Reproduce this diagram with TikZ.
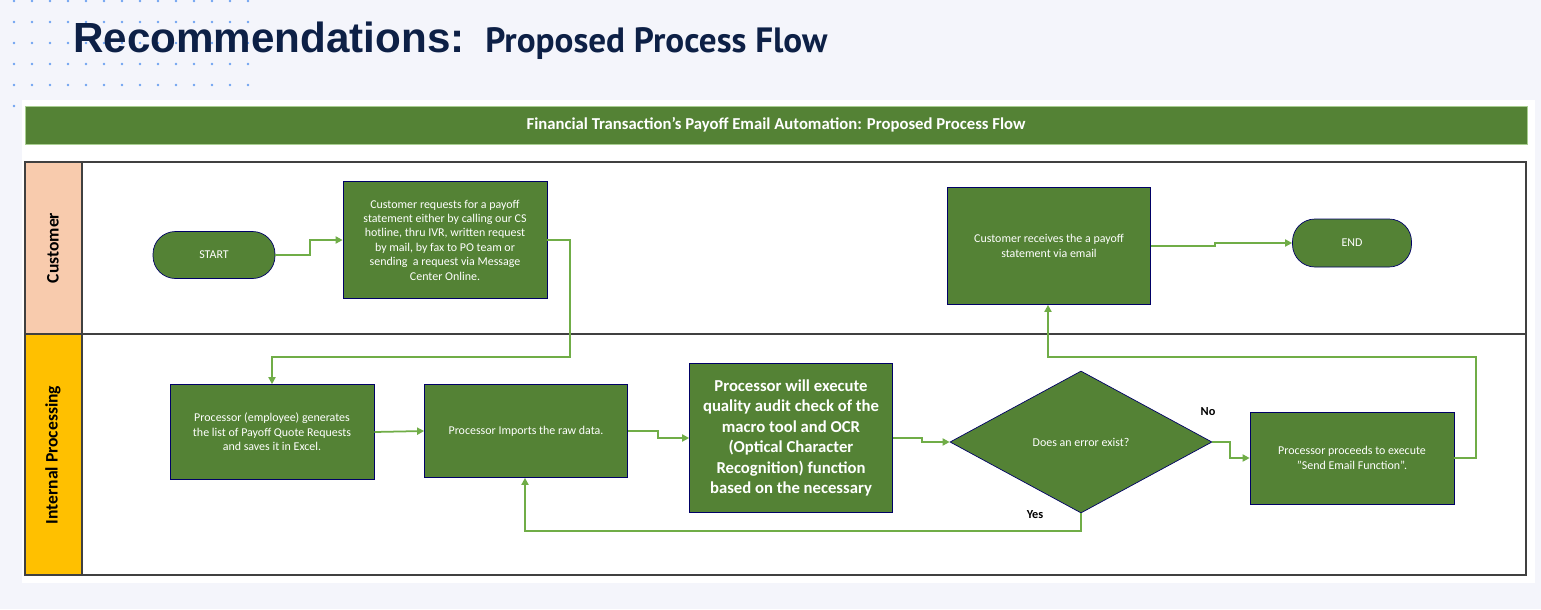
\documentclass[tikz,border=0pt]{standalone}
\usepackage{fontspec}
\setmainfont{Carlito}
\newfontfamily\ttlfont{Liberation Sans}
\newfontfamily\subfont{PT Sans}
\usetikzlibrary{shapes.geometric,arrows.meta}
\definecolor{bg}{HTML}{F4F5FB}
\definecolor{gbox}{HTML}{548235}
\definecolor{gline}{HTML}{70AD47}
\definecolor{peach}{HTML}{F8CBAD}
\definecolor{gold}{HTML}{FFC000}
\definecolor{navy}{HTML}{0D2046}
\definecolor{dotc}{HTML}{6FA3F0}
\begin{document}
\begin{tikzpicture}[x=0.02cm,y=-0.02cm,
  box/.style={draw=blue!40!black,line width=0.4pt,fill=gbox,text=white,align=center,font=\fontsize{6.8}{8.2}\selectfont,inner sep=2pt},
  term/.style={box,rounded corners=0.45cm},
  conn/.style={draw=gline,line width=1pt,-{Triangle[length=4pt,width=4pt]}},
  lbl/.style={font=\bfseries\fontsize{7}{8}\selectfont}]
\useasboundingbox (0,0) rectangle (1541,609);
\fill[bg] (0,0) rectangle (1541,609);
\foreach \r in {1,22,43,64,85}{\foreach \c in {0,...,13}{\fill[dotc] (14+18*\c,\r) circle (1.4);}}
\fill[dotc] (14,106) circle (1.4);
\node[anchor=base west,text=navy,inner sep=0] (t1) at (73,52) {\ttlfont\bfseries\fontsize{24}{28}\selectfont Recommendations:};
\node[anchor=base west,text=navy,inner sep=0] (t2) at (485,52) {\subfont\bfseries\fontsize{20}{24}\selectfont Proposed Process Flow};
\fill[white] (22,100) rectangle (1535,583);
\node[fill=gbox,draw=gline!60,minimum width=1502*0.02cm,minimum height=38*0.02cm,text=white,font=\bfseries\fontsize{9.5}{11}\selectfont] (hdr) at (776,125) {Financial Transaction’s Payoff Email Automation: Proposed Process Flow};
\fill[peach] (25,162) rectangle (82,334);
\fill[gold] (25,334) rectangle (82,575);
\draw[line width=0.8pt,black!75] (25,162) rectangle (1526,575) (82,162) -- (82,575) (25,334) -- (1526,334);
\node[rotate=90,lbl,font=\bfseries\fontsize{10}{12}\selectfont] (lc) at (53,248) {Customer};
\node[rotate=90,lbl,font=\bfseries\fontsize{10}{12}\selectfont] (li) at (53,455) {Internal Processing};
\node[term,minimum width=122*0.02cm,minimum height=47*0.02cm] (start) at (214,255) {START};
\node[box,minimum width=204*0.02cm,minimum height=117*0.02cm] (req) at (445,240) {Customer requests for a payoff\\statement either by calling our CS\\hotline, thru IVR, written request\\by mail, by fax to PO team or\\sending\ \ a request via Message\\Center Online.};
\node[box,minimum width=203*0.02cm,minimum height=117*0.02cm] (rcv) at (1049,246) {Customer receives the a payoff\\statement via email};
\node[term,minimum width=119*0.02cm,minimum height=48*0.02cm] (end) at (1352,243) {END};
\node[box,minimum width=204*0.02cm,minimum height=95*0.02cm] (gen) at (272,432) {Processor (employee) generates\\the list of Payoff Quote Requests\\and saves it in Excel.};
\node[box,minimum width=203*0.02cm,minimum height=93*0.02cm] (imp) at (526,431) {Processor Imports the raw data.};
\node[box,minimum width=203*0.02cm,minimum height=149*0.02cm,font=\bfseries\fontsize{9.5}{11.6}\selectfont] (aud) at (791,438) {Processor will execute\\quality audit check of the\\macro tool and OCR\\(Optical Character\\Recognition) function\\based on the necessary};
\node[diamond,box,minimum width=262*0.02cm,minimum height=142*0.02cm,inner sep=0] (dia) at (1081,442) {Does an error exist?};
\node[box,minimum width=204*0.02cm,minimum height=92*0.02cm] (snd) at (1352,458) {Processor proceeds to execute\\"Send Email Function”.};
\node[lbl] (no) at (1208,412) {No};
\node[lbl] (yes) at (1035,515) {Yes};
\coordinate (p1) at (570,357);
\draw[conn] (start.east) -- (310,255) |- (req.west);
\draw[conn] (req.east) -| (p1) -| (gen.north);
\draw[conn] (gen.east) -- (imp.west);
\draw[conn] (imp.east) -- (658,431) |- (aud.west);
\draw[conn] (aud.east) -- (922,438) |- (dia.west);
\draw[conn] (dia.east) -- (1230,442) |- (snd.west);
\draw[conn] (snd.east) -- (1476,458) |- (1048,357) -- (rcv.south -| 1048,0);
\draw[conn] (rcv.east) -- (1215,246) |- (end.west);
\draw[conn] (dia.south) |- (525,531) -- (imp.south -| 525,0);
\end{tikzpicture}
\end{document}
